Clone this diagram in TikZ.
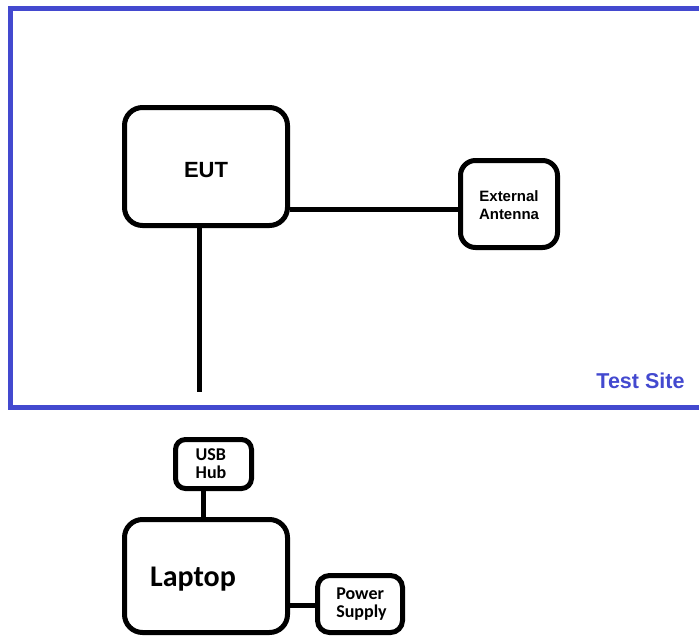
\documentclass[tikz,border=0pt]{standalone}
\usepackage{fontspec}
\setmainfont{Liberation Sans}
\newfontfamily\calfont{Carlito}
\definecolor{siteblue}{HTML}{4349CF}
\begin{document}
\begin{tikzpicture}[x=1pt,y=-1pt,
  box/.style={draw=black,line width=5pt,rounded corners=18pt,fill=white,inner sep=0pt},
  link/.style={draw=black,line width=5pt},
  armfont/.style={font=\fontsize{15}{18}\selectfont\bfseries,align=center},
  calsmall/.style={font=\calfont\fontsize{18}{18}\selectfont\bfseries,align=left}]
\useasboundingbox (0,0) rectangle (699,637);
\begin{scope}
\clip (0,0) rectangle (699,637);
% test site enclosure
\draw[siteblue,line width=5pt] (720,8.5) -- (10.5,8.5) -- (10.5,407) -- (720,407);
\node[text=siteblue,font=\fontsize{21.5}{24}\selectfont\bfseries,anchor=east] (site) at (688,381) {Test Site};

% devices inside the site
\node[box,minimum width=163pt,minimum height=118pt,
  label={[font=\fontsize{22}{26}\selectfont\bfseries,yshift=-3.5pt]center:EUT}] (eut) at (206,166.5) {};
\node[box,minimum width=97pt,minimum height=87pt,rounded corners=15pt,armfont,
  text depth=0pt] (ant) at (509,204)
  {\raisebox{-2pt}{External}\\\raisebox{-2pt}{Antenna}};
\coordinate (cable) at (199,392);

% support equipment outside
\node[box,minimum width=76pt,minimum height=49pt,rounded corners=10pt,calsmall] (hub) at (213.5,464)
  {\hspace*{-5pt}USB\\\hspace*{-5pt}Hub};
\node[box,minimum width=163pt,minimum height=113pt,
  label={[font=\calfont\fontsize{30}{34}\selectfont\bfseries,xshift=-13pt,yshift=-3.5pt]center:Laptop}] (laptop) at (206,576) {};
\node[box,minimum width=85pt,minimum height=57pt,rounded corners=12pt,calsmall] (psu) at (360,604)
  {\hspace*{3pt}Power\\\hspace*{3pt}Supply};

% cabling
\draw[link] (eut.east |- 0,209) -- (ant.west |- 0,209);
\draw[link] (eut.south -| cable) -- (cable);
\draw[link] (hub.south -| 203,0) -- (laptop.north -| 203,0);
\draw[link] (laptop.east |- 0,605) -- (psu.west |- 0,605);
\end{scope}
\end{tikzpicture}
\end{document}
